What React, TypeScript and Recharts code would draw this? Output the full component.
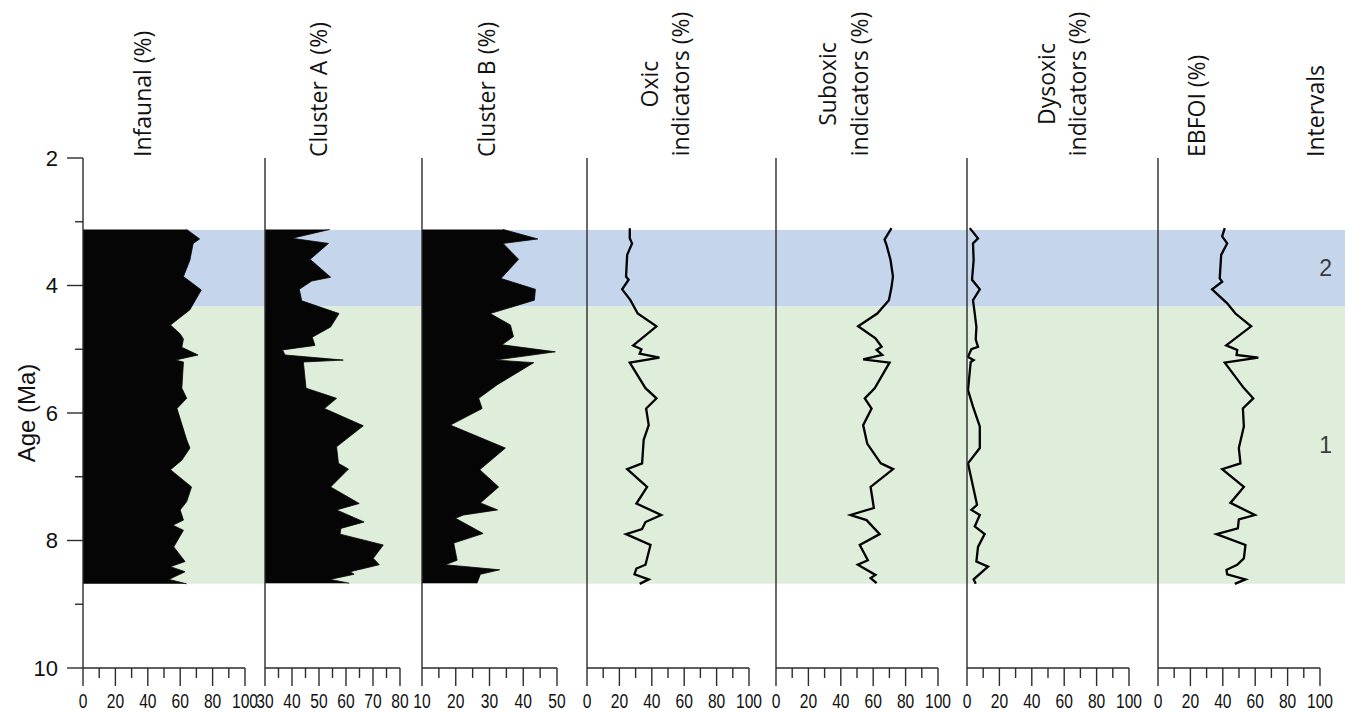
import { ComposedChart, Area, Line, XAxis, YAxis, ReferenceArea } from 'recharts';

// ages in Ma, values in %
const infaunal: [number, number][] = [
  [3.12, 64], [3.27, 72], [3.34, 68], [3.6, 66], [3.86, 62], [4.07, 73], [4.38, 66], [4.62, 54],
  [4.76, 60], [4.84, 62], [4.97, 61], [5.09, 71], [5.17, 57], [5.2, 62], [5.61, 61], [5.77, 64],
  [5.93, 58], [6.42, 64], [6.55, 66], [6.74, 61], [6.89, 54], [7.16, 67], [7.39, 64], [7.52, 60],
  [7.68, 62], [7.76, 55.5], [7.84, 62], [8.1, 56], [8.33, 63], [8.41, 54], [8.49, 63], [8.61, 53],
  [8.68, 64],
];

const clusterA: [number, number][] = [
  [3.12, 54], [3.26, 40], [3.34, 53.5], [3.59, 46.7], [3.87, 54.3], [3.93, 47.3], [4.06, 42.7],
  [4.24, 43.6], [4.44, 57.4], [4.65, 54.3], [4.81, 47.5], [4.94, 48.5], [5.01, 36.5], [5.09, 37.4],
  [5.17, 59], [5.2, 44.2], [5.61, 45.2], [5.77, 56.5], [5.93, 52], [6.2, 66.4], [6.53, 56.5],
  [6.79, 57.2], [6.88, 60.9], [7.16, 54.3], [7.42, 64.9], [7.52, 56.5], [7.71, 66.7], [7.81, 58.1],
  [7.9, 57.8], [8.07, 73.8], [8.28, 70.1], [8.38, 72.3], [8.49, 61.5], [8.53, 63], [8.61, 54.1],
  [8.67, 61.2],
];

const clusterB: [number, number][] = [
  [3.12, 34], [3.27, 44.3], [3.34, 34], [3.59, 38.6], [3.89, 33.4], [4.06, 43.6], [4.23, 43.3],
  [4.44, 30.2], [4.62, 36.2], [4.8, 37.1], [4.93, 33.7], [5.04, 49.5], [5.17, 31.7], [5.21, 43.1],
  [5.56, 32.2], [5.77, 26.8], [5.93, 27.8], [6.19, 18.4], [6.55, 34.7], [6.89, 27.1], [7.16, 32.7],
  [7.41, 27.3], [7.52, 32.4], [7.6, 22.3], [7.65, 19.9], [7.89, 28.1], [8.04, 19.4], [8.31, 20.4],
  [8.38, 16.9], [8.46, 33], [8.53, 27.3], [8.67, 26.3],
];

const oxic: [number, number][] = [
  [3.1, 26.4], [3.26, 26.4], [3.34, 27.8], [3.52, 24.8], [3.86, 24.1], [3.91, 25.7], [4.06, 21.7],
  [4.23, 26.8], [4.44, 31.3], [4.64, 42.9], [4.94, 28.5], [5.0, 33.6], [5.07, 32.5], [5.13, 44.7],
  [5.21, 26.4], [5.61, 36.1], [5.77, 42.9], [5.93, 36.5], [6.19, 38.1], [6.42, 35], [6.79, 34],
  [6.88, 24.8], [7.16, 37.1], [7.42, 30.5], [7.6, 45.8], [7.71, 36.1], [7.82, 34], [7.9, 24.1],
  [8.07, 39.2], [8.38, 36.1], [8.44, 30.5], [8.53, 29.3], [8.61, 38.1], [8.68, 32.5],
];

const suboxic: [number, number][] = [
  [3.1, 71.3], [3.28, 67], [3.37, 68.3], [3.6, 70.7], [3.86, 72.2], [4.04, 71.2], [4.23, 69.7],
  [4.44, 62.5], [4.64, 50.7], [4.83, 61.4], [4.96, 65.2], [5.01, 62.1], [5.09, 65.6], [5.16, 53.8],
  [5.21, 70.1], [5.61, 61], [5.77, 54.8], [5.93, 59], [6.19, 53.8], [6.48, 56.3], [6.79, 64.7],
  [6.88, 72.3], [7.16, 58.4], [7.49, 60.4], [7.6, 46], [7.68, 55.9], [7.9, 64], [8.07, 51.7],
  [8.31, 56.7], [8.38, 50.5], [8.54, 61.4], [8.59, 58.4], [8.67, 62.1],
];

const dysoxic: [number, number][] = [
  [3.1, 1.7], [3.26, 6.8], [3.34, 3.7], [3.6, 4.1], [3.91, 3.1], [4.06, 7.9], [4.23, 3.7],
  [4.44, 4.8], [4.65, 5.8], [4.85, 5.4], [4.96, 6.8], [5.0, 2.7], [5.12, 0.6], [5.17, 4.1],
  [5.2, 2.3], [5.64, 0.6], [5.9, 3.7], [6.21, 7.9], [6.55, 7.9], [6.79, 0.6], [7.44, 6.2],
  [7.52, 2.7], [7.6, 7.9], [7.78, 4.8], [7.9, 10.9], [8.1, 6.8], [8.33, 5.8], [8.41, 13],
  [8.61, 4.1], [8.68, 5.4],
];

const ebfoi: [number, number][] = [
  [3.1, 41.2], [3.23, 39.6], [3.34, 42.7], [3.52, 39], [3.89, 38.1], [3.94, 39.6], [4.06, 33.4],
  [4.28, 42.7], [4.44, 47.8], [4.64, 57.5], [4.94, 42.1], [5.01, 48.9], [5.09, 48.5], [5.13, 61.9],
  [5.21, 41.2], [5.61, 53], [5.77, 58.8], [5.93, 52.4], [6.21, 53], [6.55, 49.9], [6.79, 50.9],
  [6.88, 39.6], [7.16, 53], [7.41, 44.7], [7.6, 59.8], [7.67, 49.9], [7.81, 49.3], [7.9, 36.1],
  [8.07, 54], [8.28, 53], [8.38, 48.9], [8.46, 42.3], [8.53, 42.7], [8.61, 54], [8.68, 47.4],
];

const intervals = [
  { label: '2', from: 3.13, to: 4.33 },
  { label: '1', from: 4.33, to: 8.68 },
];

const ageTicks = [2, 3, 4, 5, 6, 7, 8, 9, 10];
const pctTicks = [0, 10, 20, 30, 40, 50, 60, 70, 80, 90, 100];
const clusterATicks = [30, 35, 40, 45, 50, 55, 60, 65, 70, 75, 80];
const clusterBTicks = [10, 15, 20, 25, 30, 35, 40, 45, 50];

const ageTitle = 'Age (Ma)';
const intervalsTitle = 'Intervals';

// layout
const W = 1349;
const H = 712;
const EXTRA = 10; // room below the tick labels inside each svg
const TOP = 158;
const BOTTOM = 668;
const PAD = 24;
const AX = '#2b2b2b';
const SANS = "'Liberation Sans', Arial, sans-serif";
const TITLE_FONT = "'Open Sans', 'Noto Sans', sans-serif";
const bandColors: Record<string, string> = { '2': '#c5d5ec', '1': '#dfeddb' };

const panels = [
  { key: 'inf', title: ['Infaunal (%)'], rows: infaunal, kind: 'area', domain: [0, 100], ticks: pctTicks, major: 20, left: 83, width: 162, titleX: [143] },
  { key: 'ca', title: ['Cluster A (%)'], rows: clusterA, kind: 'area', domain: [30, 80], ticks: clusterATicks, major: 10, left: 265, width: 135, titleX: [319] },
  { key: 'cb', title: ['Cluster B (%)'], rows: clusterB, kind: 'area', domain: [10, 50], ticks: clusterBTicks, major: 10, left: 422, width: 135, titleX: [487] },
  { key: 'ox', title: ['Oxic', 'indicators (%)'], rows: oxic, kind: 'line', domain: [0, 100], ticks: pctTicks, major: 20, left: 587, width: 162, titleX: [650, 681] },
  { key: 'sub', title: ['Suboxic', 'indicators (%)'], rows: suboxic, kind: 'line', domain: [0, 100], ticks: pctTicks, major: 20, left: 776, width: 162, titleX: [828, 860] },
  { key: 'dys', title: ['Dysoxic', 'indicators (%)'], rows: dysoxic, kind: 'line', domain: [0, 100], ticks: pctTicks, major: 20, left: 967, width: 162, titleX: [1047, 1078] },
  { key: 'eb', title: ['EBFOI (%)'], rows: ebfoi, kind: 'line', domain: [0, 100], ticks: pctTicks, major: 20, left: 1158, width: 162, titleX: [1197] },
];

const XTick = (props: any) => {
  const { x, y, payload, major } = props;
  const isMajor = Math.abs(payload.value % major) < 1e-6;
  return (
    <g>
      <line x1={x} x2={x} y1={y} y2={y + (isMajor ? 18 : 10)} stroke={AX} strokeWidth={1.4} />
      {isMajor && (
        <text
          transform={`translate(${x},${y + 40}) scale(0.8,1)`}
          textAnchor="middle"
          fontSize={19.5}
          fontFamily={SANS}
          fill="#111"
        >
          {payload.value}
        </text>
      )}
    </g>
  );
};

const YTick = (props: any) => {
  const { x, y, payload } = props;
  const isMajor = payload.value % 2 === 0;
  return (
    <g>
      <line x1={x - (isMajor ? 16 : 8)} x2={x} y1={y} y2={y} stroke={AX} strokeWidth={1.4} />
      {isMajor && (
        <text x={x - 25} y={y} dy="0.36em" textAnchor="end" fontSize={22} fontFamily={SANS} fill="#111">
          {payload.value}
        </text>
      )}
    </g>
  );
};

const Panel = ({ p, first }: { p: (typeof panels)[number]; first: boolean }) => {
  const data = p.rows.map(([age, v]) => ({ age, v }));
  // a YAxis of width 0 is not drawn, so the inner panels get a 1px axis
  const yw = first ? p.left : 1;
  const ml = first ? 0 : PAD - 1;
  const chartLeft = first ? 0 : p.left - PAD;
  return (
    <div style={{ position: 'absolute', left: chartLeft, top: 0 }}>
      <ComposedChart
        layout="vertical"
        width={ml + yw + p.width + PAD}
        height={H + EXTRA}
        data={data}
        margin={{ top: TOP, bottom: EXTRA, left: ml, right: PAD }}
      >
        <XAxis
          type="number"
          domain={p.domain}
          ticks={p.ticks}
          interval={0}
          height={H - BOTTOM}
          tickSize={0}
          tickMargin={0}
          tickLine={false}
          axisLine={{ stroke: AX, strokeWidth: 1.4 }}
          tick={(tp: any) => <XTick {...tp} major={p.major} />}
          allowDataOverflow
        />
        <YAxis
          type="number"
          dataKey="age"
          domain={[2, 10]}
          width={yw}
          ticks={ageTicks}
          interval={0}
          tickSize={0}
          tickMargin={0}
          tickLine={false}
          axisLine={{ stroke: AX, strokeWidth: 1.4 }}
          tick={first ? (tp: any) => <YTick {...tp} /> : false}
          allowDataOverflow
        />
        {p.kind === 'area' ? (
          <Area
            type="linear"
            dataKey="v"
            fill="#050505"
            fillOpacity={1}
            stroke="#050505"
            strokeWidth={0.8}
            isAnimationActive={false}
          />
        ) : (
          <Line
            type="linear"
            dataKey="v"
            stroke="#000"
            strokeWidth={2.3}
            dot={false}
            isAnimationActive={false}
          />
        )}
      </ComposedChart>
    </div>
  );
};

export default function App() {
  return (
    <div style={{ position: 'absolute', left: 0, top: 0, width: W, height: H, background: '#fff', overflow: 'hidden' }}>
      <div style={{ position: 'absolute', left: 0, top: 0 }}>
        <ComposedChart
          layout="vertical"
          width={W}
          height={H}
          data={intervals}
          margin={{ top: TOP, bottom: H - BOTTOM, left: 83, right: 4 }}
        >
          <XAxis type="number" dataKey="from" domain={[0, 1]} allowDataOverflow hide />
          <YAxis type="number" dataKey="to" domain={[2, 10]} allowDataOverflow hide />
          {/* invisible series so both axes get a scale */}
          <Line dataKey="from" stroke="none" dot={false} activeDot={false} isAnimationActive={false} />
          {intervals.map((iv) => (
            <ReferenceArea
              key={iv.label}
              y1={iv.from}
              y2={iv.to}
              ifOverflow="visible"
              fill={bandColors[iv.label]}
              fillOpacity={1}
              stroke="none"
              label={{ value: iv.label, position: 'insideRight', offset: 13, fill: '#3a3a3a', fontSize: 23, fontFamily: SANS }}
            />
          ))}
        </ComposedChart>
      </div>
      {panels.map((p, i) => (
        <Panel key={p.key} p={p} first={i === 0} />
      ))}
      <svg width={W} height={H} style={{ position: 'absolute', left: 0, top: 0, pointerEvents: 'none' }}>
        {panels.map((p) =>
          p.title.map((t, j) => {
            const two = p.title.length > 1;
            return (
              <text
                key={p.key + j}
                transform={`translate(${p.titleX[j]},${two ? 84 : 157}) rotate(-90)`}
                textAnchor={two ? 'middle' : 'start'}
                dy="0.35em"
                fontSize={23}
                fontFamily={TITLE_FONT}
                fill="#111"
              >
                {t}
              </text>
            );
          })
        )}
        <text
          transform={`translate(1316,157) rotate(-90)`}
          textAnchor="start"
          dy="0.35em"
          fontSize={23}
          fontFamily={TITLE_FONT}
          fill="#111"
        >
          {intervalsTitle}
        </text>
        <text
          transform={`translate(27,413) rotate(-90)`}
          textAnchor="middle"
          dy="0.35em"
          fontSize={24}
          fontFamily={SANS}
          fill="#111"
        >
          {ageTitle}
        </text>
      </svg>
    </div>
  );
}
